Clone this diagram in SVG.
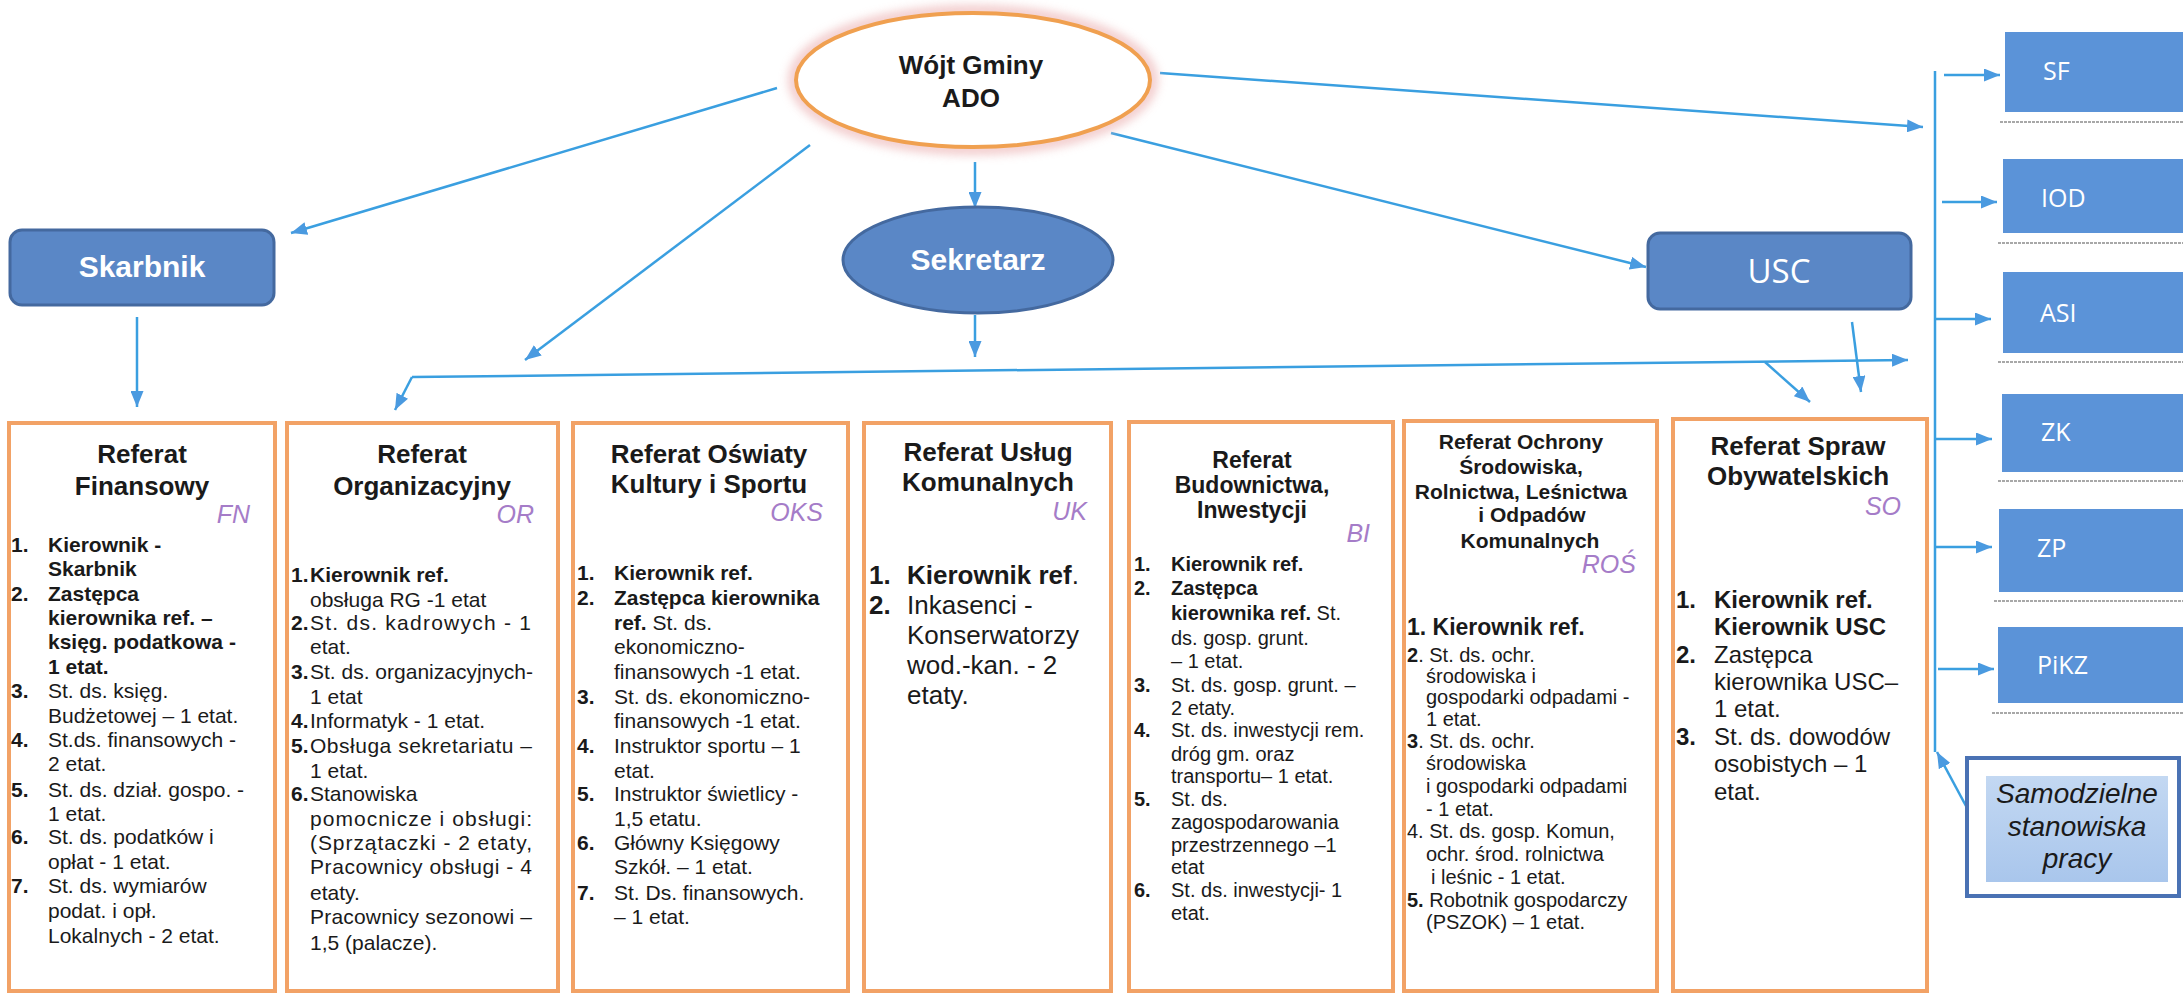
<svg xmlns="http://www.w3.org/2000/svg" width="2183" height="995" viewBox="0 0 2183 995">
<defs>
<style>
.t{font-family:"Liberation Sans",Arial,sans-serif;fill:#1a1a1a}
.b{font-weight:bold}
.title{font-family:"Liberation Sans",Arial,sans-serif;font-weight:bold;fill:#1a1a1a;text-anchor:middle}
.code{font-family:"Liberation Sans",Arial,sans-serif;font-style:italic;fill:#a57cc8;text-anchor:end;font-size:25px}
.s21{font-size:21px}
.s20{font-size:20px}
.s24{font-size:24px}
.s26{font-size:26px}
.ref{fill:#ffffff;stroke:#f2a266;stroke-width:4}
.blue{fill:#5a87c6;stroke:#44699f;stroke-width:3}
.wt{font-family:"Liberation Sans",Arial,sans-serif;font-weight:bold;fill:#ffffff;text-anchor:middle;font-size:30px}
.sq{fill:#5b93d8}
.sqt{font-family:"Open Sans","Liberation Sans",sans-serif;fill:#ffffff;font-size:25px}
.sh{stroke:#a8a8a8;stroke-width:2;stroke-dasharray:3 1}
.c{stroke:#3a9fe0;stroke-width:2.5;fill:none}
</style>
<marker id="ah" markerUnits="userSpaceOnUse" viewBox="0 0 16 13" refX="16" refY="6.5" markerWidth="16" markerHeight="13" orient="auto">
<path d="M0,0 L16,6.5 L0,13 z" fill="#4a9ae0"/>
</marker>
<filter id="glow" x="-20%" y="-30%" width="140%" height="160%">
<feGaussianBlur stdDeviation="5"/>
</filter>
<linearGradient id="lg" x1="0" y1="0" x2="0" y2="1">
<stop offset="0" stop-color="#c3d8f2"/>
<stop offset="1" stop-color="#a9c6ec"/>
</linearGradient>
</defs>
<rect width="2183" height="995" fill="#ffffff"/>

<g id="connectors">
<line class="c" x1="777" y1="88" x2="291" y2="233" marker-end="url(#ah)"/>
<line class="c" x1="810" y1="145" x2="525" y2="360" marker-end="url(#ah)"/>
<line class="c" x1="975" y1="162" x2="975" y2="208" marker-end="url(#ah)"/>
<line class="c" x1="975" y1="315" x2="975" y2="357" marker-end="url(#ah)"/>
<line class="c" x1="137" y1="317" x2="137" y2="407" marker-end="url(#ah)"/>
<line class="c" x1="412" y1="377" x2="1908" y2="360" marker-end="url(#ah)"/>
<line class="c" x1="412" y1="377" x2="395" y2="410" marker-end="url(#ah)"/>
<line class="c" x1="1160" y1="73" x2="1923" y2="127" marker-end="url(#ah)"/>
<line class="c" x1="1111" y1="133" x2="1646" y2="267" marker-end="url(#ah)"/>
<line class="c" x1="1852" y1="322" x2="1861" y2="392" marker-end="url(#ah)"/>
<line class="c" x1="1765" y1="362" x2="1810" y2="402" marker-end="url(#ah)"/>
<line class="c" x1="1935" y1="71" x2="1935" y2="752"/>
<line class="c" x1="1966" y1="806" x2="1937" y2="752" marker-end="url(#ah)"/>
<line class="c" x1="1944" y1="75" x2="2000" y2="75" marker-end="url(#ah)"/>
<line class="c" x1="1942" y1="202" x2="1997" y2="202" marker-end="url(#ah)"/>
<line class="c" x1="1935" y1="319" x2="1991" y2="319" marker-end="url(#ah)"/>
<line class="c" x1="1936" y1="439" x2="1992" y2="439" marker-end="url(#ah)"/>
<line class="c" x1="1936" y1="547" x2="1992" y2="547" marker-end="url(#ah)"/>
<line class="c" x1="1938" y1="669" x2="1994" y2="669" marker-end="url(#ah)"/>
</g>

<g id="wojt">
<ellipse cx="973" cy="80" rx="179" ry="69" fill="none" stroke="#efbfc0" stroke-width="12" opacity="0.8" filter="url(#glow)"/>
<ellipse cx="973" cy="80" rx="177" ry="67" fill="#ffffff" stroke="#f0a050" stroke-width="4"/>
<text class="title" x="971" y="74" font-size="26">Wójt Gminy</text>
<text class="title" x="971" y="107" font-size="26">ADO</text>
</g>

<g id="skarbnik">
<rect class="blue" x="10" y="230" width="264" height="75" rx="12"/>
<text class="wt" x="142" y="277">Skarbnik</text>
</g>

<g id="sekretarz">
<ellipse class="blue" cx="978" cy="260" rx="135" ry="53"/>
<text class="wt" x="978" y="270">Sekretarz</text>
</g>

<g id="usc">
<rect class="blue" x="1648" y="233" width="263" height="76" rx="12"/>
<text x="1779" y="283" text-anchor="middle" font-family="'Open Sans','Liberation Sans',sans-serif" font-size="33" fill="#ffffff">USC</text>
</g>

<g id="sf">
<rect class="sq" x="2005" y="32" width="178" height="80"/>
<line class="sh" x1="2000" y1="122" x2="2183" y2="122"/>
<text class="sqt" x="2043" y="80">SF</text>
</g>
<g id="iod">
<rect class="sq" x="2003" y="159" width="180" height="74"/>
<line class="sh" x1="1998" y1="243" x2="2183" y2="243"/>
<text class="sqt" x="2041" y="207">IOD</text>
</g>
<g id="asi">
<rect class="sq" x="2003" y="272" width="180" height="81"/>
<line class="sh" x1="1998" y1="362" x2="2183" y2="362"/>
<text class="sqt" x="2040" y="322">ASI</text>
</g>
<g id="zk">
<rect class="sq" x="2002" y="394" width="181" height="78"/>
<line class="sh" x1="1998" y1="481" x2="2183" y2="481"/>
<text class="sqt" x="2041" y="441">ZK</text>
</g>
<g id="zp">
<rect class="sq" x="1999" y="509" width="184" height="83"/>
<line class="sh" x1="1994" y1="601" x2="2183" y2="601"/>
<text class="sqt" x="2037" y="557">ZP</text>
</g>
<g id="pikz">
<rect class="sq" x="1998" y="627" width="185" height="76"/>
<line class="sh" x1="1992" y1="713" x2="2183" y2="713"/>
<text class="sqt" x="2037" y="674">PiKZ</text>
</g>

<g id="samodzielne">
<rect x="1967" y="758" width="212" height="138" fill="#ffffff" stroke="#4a72b4" stroke-width="4"/>
<rect x="1986" y="776" width="182" height="106" fill="url(#lg)"/>
<text x="2077" y="803" text-anchor="middle" font-family="'Liberation Sans',Arial,sans-serif" font-style="italic" font-size="28" fill="#1a1a1a">Samodzielne</text>
<text x="2077" y="836" text-anchor="middle" font-family="'Liberation Sans',Arial,sans-serif" font-style="italic" font-size="28" fill="#1a1a1a">stanowiska</text>
<text x="2077" y="868" text-anchor="middle" font-family="'Liberation Sans',Arial,sans-serif" font-style="italic" font-size="28" fill="#1a1a1a">pracy</text>
</g>

<g id="fn">
<rect class="ref" x="9" y="423" width="266" height="568"/>
<text class="title s26" x="142" y="463">Referat</text>
<text class="title s26" x="142" y="495">Finansowy</text>
<text class="code" x="250" y="523">FN</text>
<g class="t s21">
<text class="b" x="11" y="552">1.</text><text class="b" x="48" y="552">Kierownik -</text>
<text class="b" x="48" y="576">Skarbnik</text>
<text class="b" x="11" y="601">2.</text><text class="b" x="48" y="601">Zastępca</text>
<text class="b" x="48" y="625">kierownika ref. –</text>
<text class="b" x="48" y="649">księg. podatkowa -</text>
<text class="b" x="48" y="674">1 etat.</text>
<text class="b" x="11" y="698">3.</text><text x="48" y="698">St. ds. księg.</text>
<text x="48" y="723">Budżetowej – 1 etat.</text>
<text class="b" x="11" y="747">4.</text><text x="48" y="747">St.ds. finansowych -</text>
<text x="48" y="771">2 etat.</text>
<text class="b" x="11" y="797">5.</text><text x="48" y="797">St. ds. dział. gospo. -</text>
<text x="48" y="821">1 etat.</text>
<text class="b" x="11" y="844">6.</text><text x="48" y="844">St. ds. podatków i</text>
<text x="48" y="869">opłat - 1 etat.</text>
<text class="b" x="11" y="893">7.</text><text x="48" y="893">St. ds. wymiarów</text>
<text x="48" y="918">podat. i opł.</text>
<text x="48" y="943">Lokalnych - 2 etat.</text>
</g>
</g>

<g id="or">
<rect class="ref" x="287" y="423" width="271" height="568"/>
<text class="title s26" x="422" y="463">Referat</text>
<text class="title s26" x="422" y="495">Organizacyjny</text>
<text class="code" x="534" y="523">OR</text>
<g class="t s21">
<text class="b" x="291" y="582">1.</text><text class="b" x="310" y="582">Kierownik ref.</text>
<text x="310" y="607">obsługa RG -1  etat</text>
<text class="b" x="291" y="630">2.</text><text x="310" y="630" textLength="221" lengthAdjust="spacing">St. ds. kadrowych -  1</text>
<text x="310" y="654">etat.</text>
<text class="b" x="291" y="679">3.</text><text x="310" y="679">St. ds. organizacyjnych-</text>
<text x="310" y="704">1 etat</text>
<text class="b" x="291" y="728">4.</text><text x="310" y="728">Informatyk - 1 etat.</text>
<text class="b" x="291" y="753">5.</text><text x="310" y="753" textLength="222" lengthAdjust="spacing">Obsługa sekretariatu –</text>
<text x="310" y="778">1 etat.</text>
<text class="b" x="291" y="801">6.</text><text x="310" y="801">Stanowiska</text>
<text x="310" y="826" textLength="222" lengthAdjust="spacing">pomocnicze    i obsługi:</text>
<text x="310" y="850" textLength="222" lengthAdjust="spacing">(Sprzątaczki -  2 etaty,</text>
<text x="310" y="874" textLength="222" lengthAdjust="spacing">Pracownicy obsługi - 4</text>
<text x="310" y="900">etaty.</text>
<text x="310" y="924" textLength="222" lengthAdjust="spacing">Pracownicy sezonowi –</text>
<text x="310" y="950">1,5 (palacze).</text>
</g>
</g>

<g id="oks">
<rect class="ref" x="573" y="423" width="275" height="568"/>
<text class="title s26" x="709" y="463">Referat Oświaty</text>
<text class="title s26" x="709" y="493">Kultury i Sportu</text>
<text class="code" x="823" y="521">OKS</text>
<g class="t s21">
<text class="b" x="577" y="580">1.</text><text class="b" x="614" y="580">Kierownik ref.</text>
<text class="b" x="577" y="605">2.</text><text class="b" x="614" y="605">Zastępca kierownika</text>
<text x="614" y="630"><tspan class="b">ref.</tspan> St. ds.</text>
<text x="614" y="654">ekonomiczno-</text>
<text x="614" y="679">finansowych -1 etat.</text>
<text class="b" x="577" y="704">3.</text><text x="614" y="704">St. ds. ekonomiczno-</text>
<text x="614" y="728">finansowych -1 etat.</text>
<text class="b" x="577" y="753">4.</text><text x="614" y="753">Instruktor sportu – 1</text>
<text x="614" y="778">etat.</text>
<text class="b" x="577" y="801">5.</text><text x="614" y="801">Instruktor  świetlicy -</text>
<text x="614" y="826">1,5 etatu.</text>
<text class="b" x="577" y="850">6.</text><text x="614" y="850">Główny Księgowy</text>
<text x="614" y="874">Szkół. – 1 etat.</text>
<text class="b" x="577" y="900">7.</text><text x="614" y="900">St. Ds. finansowych.</text>
<text x="614" y="924">– 1 etat.</text>
</g>
</g>

<g id="uk">
<rect class="ref" x="864" y="423" width="247" height="568"/>
<text class="title s26" x="988" y="461">Referat Usług</text>
<text class="title s26" x="988" y="491">Komunalnych</text>
<text class="code" x="1087" y="520">UK</text>
<g class="t s26">
<text class="b" x="869" y="584">1.</text><text x="907" y="584"><tspan class="b">Kierownik ref</tspan>.</text>
<text class="b" x="869" y="614">2.</text><text x="907" y="614">Inkasenci -</text>
<text x="907" y="644">Konserwatorzy</text>
<text x="907" y="674">wod.-kan. - 2</text>
<text x="907" y="704">etaty.</text>
</g>
</g>

<g id="bi">
<rect class="ref" x="1129" y="422" width="264" height="569"/>
<text class="title" x="1252" y="468" font-size="23">Referat</text>
<text class="title" x="1252" y="493" font-size="23">Budownictwa,</text>
<text class="title" x="1252" y="518" font-size="23">Inwestycji</text>
<text class="code" x="1370" y="542" font-size="24">BI</text>
<g class="t s20">
<text class="b" x="1134" y="571">1.</text><text class="b" x="1171" y="571">Kierownik ref.</text>
<text class="b" x="1134" y="595">2.</text><text class="b" x="1171" y="595">Zastępca</text>
<text x="1171" y="620"><tspan class="b">kierownika ref.</tspan> St.</text>
<text x="1171" y="645">ds. gosp. grunt.</text>
<text x="1171" y="668">– 1 etat.</text>
<text class="b" x="1134" y="692">3.</text><text x="1171" y="692">St. ds. gosp. grunt. –</text>
<text x="1171" y="715">2 etaty.</text>
<text class="b" x="1134" y="737">4.</text><text x="1171" y="737">St. ds. inwestycji rem.</text>
<text x="1171" y="761">dróg gm. oraz</text>
<text x="1171" y="783">transportu– 1 etat.</text>
<text class="b" x="1134" y="806">5.</text><text x="1171" y="806">St. ds.</text>
<text x="1171" y="829">zagospodarowania</text>
<text x="1171" y="852">przestrzennego –1</text>
<text x="1171" y="874">etat</text>
<text class="b" x="1134" y="897">6.</text><text x="1171" y="897">St. ds. inwestycji- 1</text>
<text x="1171" y="920">etat.</text>
</g>
</g>

<g id="ros">
<rect class="ref" x="1404" y="421" width="253" height="570"/>
<text class="title" x="1521" y="449" font-size="21">Referat Ochrony</text>
<text class="title" x="1521" y="474" font-size="21">Środowiska,</text>
<text class="title" x="1521" y="499" font-size="21">Rolnictwa, Leśnictwa</text>
<text class="title" x="1532" y="522" font-size="21">i Odpadów</text>
<text class="title" x="1530" y="548" font-size="21">Komunalnych</text>
<text class="code" x="1636" y="573" font-size="24">ROŚ</text>
<g class="t s20">
<text class="b" x="1407" y="635" font-size="23">1. Kierownik ref.</text>
<text x="1407" y="662"><tspan class="b">2</tspan>. St. ds. ochr.</text>
<text x="1426" y="683">środowiska i</text>
<text x="1426" y="704">gospodarki odpadami -</text>
<text x="1426" y="726">1 etat.</text>
<text x="1407" y="748"><tspan class="b">3</tspan>. St. ds. ochr.</text>
<text x="1426" y="770">środowiska</text>
<text x="1426" y="793">i gospodarki odpadami</text>
<text x="1426" y="816">- 1 etat.</text>
<text x="1407" y="838">4. St. ds. gosp. Komun,</text>
<text x="1426" y="861">ochr. środ. rolnictwa</text>
<text x="1431" y="884">i leśnic - 1 etat.</text>
<text x="1407" y="907"><tspan class="b">5.</tspan> Robotnik gospodarczy</text>
<text x="1426" y="929">(PSZOK) – 1 etat.</text>
</g>
</g>

<g id="so">
<rect class="ref" x="1673" y="419" width="254" height="572"/>
<text class="title s26" x="1798" y="455">Referat Spraw</text>
<text class="title s26" x="1798" y="485">Obywatelskich</text>
<text class="code" x="1901" y="515">SO</text>
<g class="t s24">
<text class="b" x="1676" y="608">1.</text><text class="b" x="1714" y="608">Kierownik ref.</text>
<text class="b" x="1714" y="635">Kierownik USC</text>
<text class="b" x="1676" y="663">2.</text><text x="1714" y="663">Zastępca</text>
<text x="1714" y="690">kierownika USC–</text>
<text x="1714" y="717">1 etat.</text>
<text class="b" x="1676" y="745">3.</text><text x="1714" y="745">St. ds. dowodów</text>
<text x="1714" y="772">osobistych – 1</text>
<text x="1714" y="800">etat.</text>
</g>
</g>
</svg>
